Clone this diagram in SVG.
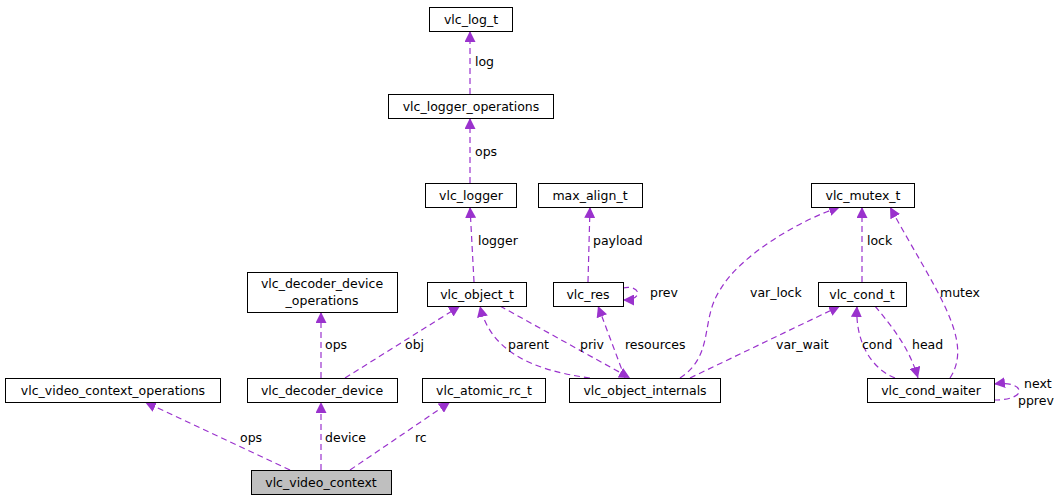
<svg xmlns="http://www.w3.org/2000/svg" width="1061" height="501" viewBox="0 0 1061 501">
<style>
.n rect{fill:#fff;stroke:#000;stroke-width:1}
text{font-family:"DejaVu Sans",sans-serif;font-size:12.5px;fill:#000}
.n text{text-anchor:middle}
.e path{fill:none;stroke:#9a32cd;stroke-width:1.2;stroke-dasharray:6,4;marker-end:url(#a)}
</style>
<defs><marker id="a" viewBox="0 0 10 10" refX="10" refY="5" markerWidth="11" markerHeight="11" markerUnits="userSpaceOnUse" orient="auto"><path d="M0,0L10,5L0,10z" fill="#9a32cd"/></marker></defs>
<rect width="1061" height="501" fill="#fff"/>
<g class="e">
<path d="M470,94V31"/>
<path d="M470,183V118"/>
<path d="M474,282L470,207"/>
<path d="M588,282L590,207"/>
<path d="M623,288C640,284 645,300 623,300"/>
<path d="M321,378V312"/>
<path d="M345,378L460,306"/>
<path d="M590,378C530,370 490,350 480,306"/>
<path d="M500,306L630,378"/>
<path d="M625,378L598,306"/>
<path d="M680,378C715,355 700,320 720,290C740,255 800,220 840,207"/>
<path d="M690,378L840,306"/>
<path d="M862,282V207"/>
<path d="M950,378C975,340 935,290 890,207"/>
<path d="M895,378C870,368 855,340 857,306"/>
<path d="M875,306C895,330 910,350 918,378"/>
<path d="M994,400C1030,400 1025,380 994,384"/>
<path d="M290,470L145,402"/>
<path d="M321,470V402"/>
<path d="M350,470L450,402"/>
</g>
<g>
<text x="475" y="66">log</text>
<text x="475" y="156">ops</text>
<text x="478" y="245">logger</text>
<text x="593" y="245">payload</text>
<text x="650" y="297">prev</text>
<text x="325" y="349">ops</text>
<text x="405" y="349">obj</text>
<text x="508" y="349">parent</text>
<text x="580" y="349">priv</text>
<text x="625" y="349">resources</text>
<text x="750" y="297">var_lock</text>
<text x="776" y="349">var_wait</text>
<text x="867" y="245">lock</text>
<text x="940" y="297">mutex</text>
<text x="862" y="349">cond</text>
<text x="912" y="349">head</text>
<text x="1024" y="388">next</text>
<text x="1018" y="405">pprev</text>
<text x="240" y="442">ops</text>
<text x="325" y="442">device</text>
<text x="415" y="442">rc</text>
</g>
<g class="n" id="vlc_log_t"><rect x="429.5" y="7.5" width="83" height="24"/><text x="471" y="24">vlc_log_t</text></g>
<g class="n" id="vlc_logger_operations"><rect x="388.5" y="94.5" width="165" height="24"/><text x="471" y="111">vlc_logger_operations</text></g>
<g class="n" id="vlc_logger"><rect x="425.5" y="183.5" width="91" height="24"/><text x="471" y="200">vlc_logger</text></g>
<g class="n" id="max_align_t"><rect x="538.5" y="183.5" width="104" height="24"/><text x="590" y="200">max_align_t</text></g>
<g class="n" id="vlc_mutex_t"><rect x="811.5" y="183.5" width="103" height="24"/><text x="863" y="200">vlc_mutex_t</text></g>
<g class="n" id="vlc_decoder_device_operations"><rect x="247.5" y="272.5" width="150" height="40"/><text x="322" y="288">vlc_decoder_device</text><text x="322" y="305">_operations</text></g>
<g class="n" id="vlc_object_t"><rect x="427.5" y="282.5" width="99" height="24"/><text x="477" y="299">vlc_object_t</text></g>
<g class="n" id="vlc_res"><rect x="553.5" y="282.5" width="70" height="24"/><text x="588" y="299">vlc_res</text></g>
<g class="n" id="vlc_cond_t"><rect x="818.5" y="282.5" width="88" height="24"/><text x="862" y="299">vlc_cond_t</text></g>
<g class="n" id="vlc_video_context_operations"><rect x="5.5" y="378.5" width="215" height="24"/><text x="113" y="395">vlc_video_context_operations</text></g>
<g class="n" id="vlc_decoder_device"><rect x="247.5" y="378.5" width="150" height="24"/><text x="322" y="395">vlc_decoder_device</text></g>
<g class="n" id="vlc_atomic_rc_t"><rect x="422.5" y="378.5" width="123" height="24"/><text x="484" y="395">vlc_atomic_rc_t</text></g>
<g class="n" id="vlc_object_internals"><rect x="569.5" y="378.5" width="151" height="24"/><text x="645" y="395">vlc_object_internals</text></g>
<g class="n" id="vlc_cond_waiter"><rect x="867.5" y="378.5" width="127" height="24"/><text x="931" y="395">vlc_cond_waiter</text></g>
<g class="n" id="vlc_video_context"><rect x="251.5" y="470.5" width="140" height="24" style="fill:#bfbfbf"/><text x="321" y="487">vlc_video_context</text></g>
</svg>
